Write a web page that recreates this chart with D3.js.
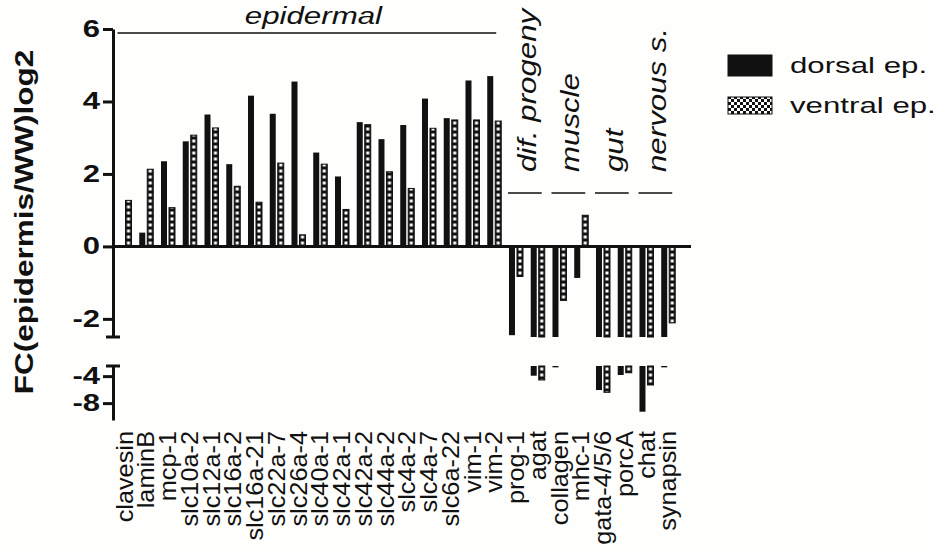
<!DOCTYPE html>
<html>
<head>
<meta charset="utf-8">
<script src="https://cdn.jsdelivr.net/npm/d3@7"></script>
<style>
  body { margin: 0; background: #fefefc; }
  svg { display: block; font-family: "Liberation Sans", Arial, sans-serif; }
</style>
</head>
<body>
<div id="chart"></div>
<script>
// genes on the x axis
var genes = ["clavesin", "laminB", "mcp-1", "slc10a-2", "slc12a-1", "slc16a-2", "slc16a-21",
  "slc22a-7", "slc26a-4", "slc40a-1", "slc42a-1", "slc42a-2", "slc44a-2", "slc4a-2", "slc4a-7",
  "slc6a-22", "vim-1", "vim-2", "prog-1", "agat", "collagen", "mhc-1", "gata-4/5/6", "porcA",
  "chat", "synapsin"];

// FC(epidermis/WW) log2
var dorsal = [0, 0.38, 2.35, 2.9, 3.64, 2.27, 4.16, 3.66, 4.55, 2.59, 1.93, 3.43, 2.96, 3.35,
  4.08, 3.54, 4.58, 4.7, -2.45, -3.94, -2.7, -0.87, -6.06, -3.83, -9.27, -2.7];
var ventral = [1.27, 2.13, 1.07, 3.07, 3.27, 1.66, 1.22, 2.3, 0.32, 2.27, 1.02, 3.36, 2.06, 1.6,
  3.26, 3.49, 3.49, 3.46, -0.83, -4.57, -1.49, 0.86, -6.4, -3.5, -5.31, -2.11];

// tissue groups (first / last gene index)
var groupNames = ["epidermal", "dif. progeny", "muscle", "gut", "nervous s."];
var groupFirst = [0, 18, 20, 22, 24];
var groupLast = [17, 19, 21, 23, 25];

var seriesNames = ["dorsal ep.", "ventral ep."];
var upperTicks = [-2, 0, 2, 4, 6];
var lowerTicks = [-4, -8];

var width = 939, height = 551;
var ink = "#111";
var breakAt = -2.5;

var svg = d3.select("#chart").append("svg")
    .attr("width", width)
    .attr("height", height);

var defs = svg.append("defs");

// white squares inside a black bar
var vp = defs.append("pattern")
    .attr("id", "ventral-bar")
    .attr("patternUnits", "userSpaceOnUse")
    .attr("width", 6).attr("height", 6);
vp.append("rect").attr("width", 6).attr("height", 6).attr("fill", ink);
vp.append("rect").attr("x", 1.5).attr("y", 1.5).attr("width", 3).attr("height", 3).attr("fill", "#fff");

// checkerboard for the legend swatch
var cp = defs.append("pattern")
    .attr("id", "ventral-legend")
    .attr("patternUnits", "userSpaceOnUse")
    .attr("width", 6).attr("height", 6);
cp.append("rect").attr("width", 6).attr("height", 6).attr("fill", "#fff");
cp.append("rect").attr("width", 3).attr("height", 3).attr("fill", ink);
cp.append("rect").attr("x", 3).attr("y", 3).attr("width", 3).attr("height", 3).attr("fill", ink);

var x = d3.scaleBand()
    .domain(genes)
    .range([113, 691])
    .paddingInner(0.356)
    .paddingOuter(0.466)
    .align(0.222);

var xs = d3.scaleBand()
    .domain(["dorsal", "ventral"])
    .range([0, x.bandwidth()])
    .paddingInner(0.25);

var yTop = d3.scaleLinear().domain([breakAt, 6]).range([337, 29]);
var yBot = d3.scaleLinear().domain([breakAt, -10.5]).range([366, 420]);

var rows = genes.map(function(g, i) {
  return [{gene: g, key: "dorsal", v: dorsal[i]}, {gene: g, key: "ventral", v: ventral[i]}];
});
var bars = d3.merge(rows);

var bar = svg.append("g").selectAll("g")
    .data(bars)
  .enter().append("g")
    .attr("transform", function(d) { return "translate(" + (x(d.gene) + xs(d.key)) + ",0)"; });

function fillFor(d) { return d.key == "dorsal" ? ink : "url(#ventral-bar)"; }

// upper segment
bar.filter(function(d) { return d.v != 0; })
  .append("rect")
    .attr("x", 0)
    .attr("width", xs.bandwidth())
    .attr("y", function(d) { return d.v > 0 ? yTop(d.v) : yTop(0); })
    .attr("height", function(d) {
      var v = Math.max(d.v, breakAt);
      return Math.abs(yTop(v) - yTop(0));
    })
    .attr("fill", fillFor)
    .attr("stroke", function(d) { return d.key == "ventral" ? ink : "none"; })
    .attr("stroke-width", 1);

// lower segment
bar.filter(function(d) { return d.v < breakAt; })
  .append("rect")
    .attr("x", 0)
    .attr("width", xs.bandwidth())
    .attr("y", yBot(breakAt))
    .attr("height", function(d) { return yBot(d.v) - yBot(breakAt); })
    .attr("fill", fillFor)
    .attr("stroke", function(d) { return d.key == "ventral" ? ink : "none"; })
    .attr("stroke-width", 1);

// zero line
svg.append("line")
    .attr("x1", 113).attr("x2", 691)
    .attr("y1", yTop(0)).attr("y2", yTop(0))
    .attr("stroke", ink).attr("stroke-width", 3);

// axes
function styleAxis(g) {
  g.select(".domain").attr("stroke", ink).attr("stroke-width", 3);
  g.selectAll(".tick line").attr("stroke", ink).attr("stroke-width", 3);
  g.selectAll(".tick text")
      .attr("x", 0)
      .attr("transform", "translate(-13,0) scale(1.35,1)")
      .attr("fill", ink)
      .style("font-size", "23px")
      .style("font-weight", "bold")
      .style("font-family", "'Liberation Sans', Arial, sans-serif");
}

svg.append("g")
    .attr("transform", "translate(113,0)")
    .call(d3.axisLeft(yTop).tickValues(upperTicks).tickSize(10).tickSizeOuter(0)
      .tickPadding(3).tickFormat(function(d) { return String(d); }))
    .call(styleAxis);

svg.append("g")
    .attr("transform", "translate(113,0)")
    .call(d3.axisLeft(yBot).tickValues(lowerTicks).tickSize(10).tickSizeOuter(0)
      .tickPadding(3).tickFormat(function(d) { return String(d); }))
    .call(styleAxis);

// segment caps
[yTop(breakAt), yBot(breakAt)].forEach(function(yy) {
  svg.append("line")
      .attr("x1", 106).attr("x2", 120)
      .attr("y1", yy).attr("y2", yy)
      .attr("stroke", ink).attr("stroke-width", 3);
});

// y title
svg.append("text")
    .attr("transform", "translate(33,222) rotate(-90) scale(1.26,1)")
    .attr("text-anchor", "middle")
    .attr("fill", ink)
    .style("font-size", "25px")
    .style("font-weight", "bold")
    .text("FC(epidermis/WW)log2");

// gene labels
svg.append("g").selectAll("text")
    .data(genes)
  .enter().append("text")
    .attr("transform", function(d) {
      return "translate(" + (x(d) + x.bandwidth() / 2) + ",431) rotate(-90) scale(1.1,1)";
    })
    .attr("text-anchor", "end")
    .attr("dy", "0.35em")
    .attr("fill", ink)
    .style("font-size", "23px")
    .text(function(d) { return d; });

// group brackets and names
groupNames.forEach(function(name, i) {
  var x0 = x(genes[groupFirst[i]]);
  var x1 = x(genes[groupLast[i]]) + x.bandwidth();
  var cx = (x0 + x1) / 2;
  if (i == 0) {
    svg.append("line")
        .attr("x1", x0).attr("x2", x1 - 5)
        .attr("y1", 33).attr("y2", 33)
        .attr("stroke", ink).attr("stroke-width", 1.5);
    svg.append("text")
        .attr("transform", "translate(" + (cx + 4) + ",24) scale(1.36,1)")
        .attr("text-anchor", "middle")
        .attr("fill", ink)
        .style("font-size", "23px")
        .style("font-style", "italic")
        .text(name);
  } else {
    svg.append("line")
        .attr("x1", x0 - 1).attr("x2", x1 - 3)
        .attr("y1", 193).attr("y2", 193)
        .attr("stroke", ink).attr("stroke-width", 1.5);
    svg.append("text")
        .attr("transform", "translate(" + (cx + 9) + ",172) rotate(-90) scale(1.25,1)")
        .attr("text-anchor", "start")
        .attr("fill", ink)
        .style("font-size", "25px")
        .style("font-style", "italic")
        .text(name);
  }
});

// legend
var legend = svg.append("g").attr("transform", "translate(728,0)");
var swatchY = [55, 97], swatchH = [21, 17];
seriesNames.forEach(function(name, i) {
  legend.append("rect")
      .attr("x", 0).attr("y", swatchY[i])
      .attr("width", 44).attr("height", swatchH[i])
      .attr("fill", i == 0 ? ink : "url(#ventral-legend)")
      .attr("stroke", ink).attr("stroke-width", 1);
  legend.append("text")
      .attr("transform", "translate(62," + (swatchY[i] + swatchH[i] / 2) + ") scale(1.42,1)")
      .attr("dy", "0.35em")
      .attr("fill", ink)
      .style("font-size", "22px")
      .text(name);
});
</script>
</body>
</html>
